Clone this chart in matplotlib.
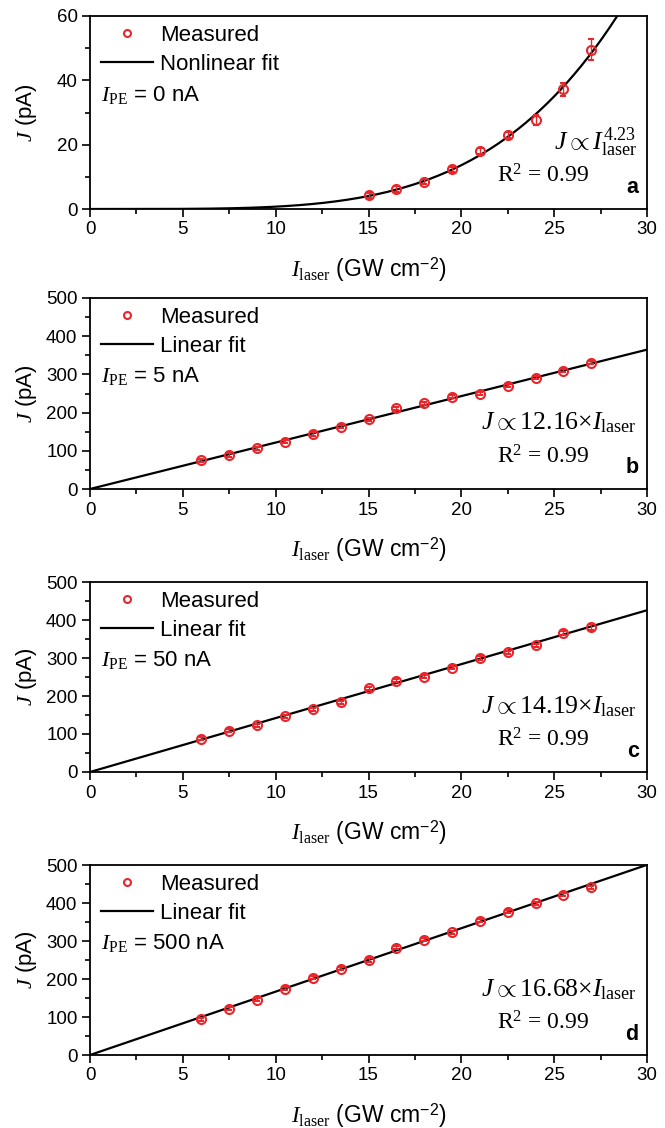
import numpy as np
import matplotlib
matplotlib.use("Agg")
import matplotlib.pyplot as plt
from matplotlib.lines import Line2D
from matplotlib.ticker import MultipleLocator

plt.rcParams["font.family"] = ["Liberation Sans", "DejaVu Sans"]
plt.rcParams["mathtext.fontset"] = "custom"
plt.rcParams["mathtext.rm"] = "Liberation Serif"
plt.rcParams["mathtext.it"] = "Liberation Serif:italic"
plt.rcParams["mathtext.sf"] = "Liberation Sans"
plt.rcParams["mathtext.bf"] = "Liberation Serif:bold"

RED, INK = "#e8262b", "#000000"

# ---- data ----
x_a = [15, 16.5, 18, 19.5, 21, 22.5, 24, 25.5, 27]
y_a = [4.3, 6.2, 8.5, 12.3, 18.0, 23.0, 27.7, 37.2, 49.5]
e_a = [0.8, 0.8, 0.8, 0.8, 1.0, 1.0, 1.5, 2.0, 3.3]
exp_a = 4.23

x_lin = [6, 7.5, 9, 10.5, 12, 13.5, 15, 16.5, 18, 19.5, 21, 22.5, 24, 25.5, 27]
y_b = [75, 89, 107, 124, 144, 163, 183, 211, 224, 242, 249, 270, 291, 310, 330]
y_c = [88, 108, 123, 147, 165, 184, 220, 240, 251, 274, 300, 315, 333, 365, 382]
y_d = [94, 122, 145, 175, 203, 227, 250, 282, 303, 323, 353, 377, 399, 422, 441]
e_b = [4] * 15
e_c = [4, 4, 4, 4, 4, 4, 4, 4, 4, 4, 4, 4, 4, 5, 7]
e_d = [4] * 15
slopes = [12.16, 14.19, 16.68]
ipe = ["0", "5", "50", "500"]
letters = ["a", "b", "c", "d"]

fig = plt.figure(figsize=(6.65, 11.28), dpi=100)
L, W = 90 / 665, 557 / 665
boxes = [(16, 209), (298, 489), (582, 772), (865, 1055)]
axes = []
for top, bot in boxes:
    axes.append(fig.add_axes([L, 1 - bot / 1128, W, (bot - top) / 1128]))

xx = np.linspace(0, 30, 400)
xa, ya = np.array(x_a), np.array(y_a)
coef_a = np.sum(ya * xa ** exp_a) / np.sum(xa ** (2 * exp_a))

series = [(x_a, y_a, e_a, coef_a * xx ** exp_a, "Nonlinear fit",
           r"$J \propto I_{\rm laser}^{\mathit{4.23}}$", 60, 20, 10)]
for yv, ev, s in zip([y_b, y_c, y_d], [e_b, e_c, e_d], slopes):
    series.append((x_lin, yv, ev, s * xx, "Linear fit",
                   r"$J \propto %.2f{\times}I_{\rm laser}$" % s, 500, 100, 50))

for i, (ax, (xv, yv, ev, fit, fitlab, eq, ymax, maj, mnr)) in enumerate(zip(axes, series)):
    ax.plot(xx, fit, color=INK, lw=1.6, zorder=2)
    ax.errorbar(xv, yv, yerr=ev, fmt="o", ms=6.5, mfc="none", mec=RED, mew=1.5,
                ecolor=RED, elinewidth=1.0, capsize=2.5, capthick=1.0, zorder=3)
    ax.set_xlim(0, 30)
    ax.set_ylim(0, ymax)
    ax.xaxis.set_major_locator(MultipleLocator(5))
    ax.xaxis.set_minor_locator(MultipleLocator(2.5))
    ax.yaxis.set_major_locator(MultipleLocator(maj))
    ax.yaxis.set_minor_locator(MultipleLocator(mnr))
    ax.tick_params(which="both", direction="out", width=1.2, labelsize=13.5,
                   top=False, right=False, pad=3)
    ax.tick_params(which="major", length=6)
    ax.tick_params(which="minor", length=3.5)
    for sp in ax.spines.values():
        sp.set_linewidth(1.3)
    ax.set_xlabel(r"$I_{\rm laser}$ (GW cm$^{\mathsf{-2}}$)", fontsize=16.5, labelpad=12)
    ax.set_ylabel(r"$J$ (pA)", fontsize=16, labelpad=4)
    ax.yaxis.set_label_coords(-0.092, 0.5)

    handles = [Line2D([], [], ls="none", marker="o", ms=5, mfc="none", mec=RED, mew=1.5),
               Line2D([], [], color=INK, lw=1.6)]
    ax.legend(handles, ["Measured", fitlab], loc="upper left", frameon=False,
              fontsize=16, handlelength=2.35, handletextpad=0.3, labelspacing=0.36,
              borderaxespad=0, bbox_to_anchor=(0.004, 1.0))
    ax.text(0.02, 0.59, r"$I_{\rm PE}$ = %s nA" % ipe[i], transform=ax.transAxes,
            fontsize=16, ha="left", va="center")
    ax.text(0.982, 0.345, eq, transform=ax.transAxes, fontsize=18.5,
            ha="right", va="center")
    ax.text(0.73, 0.17, r"$\mathrm{R}^{2}$ = 0.99", transform=ax.transAxes,
            fontsize=17, ha="left", va="center", family="Liberation Serif")
    ax.text(0.985, 0.11, letters[i], transform=ax.transAxes, fontsize=15.5,
            fontweight="bold", ha="right", va="center")

fig.savefig("out.png", dpi=100)
